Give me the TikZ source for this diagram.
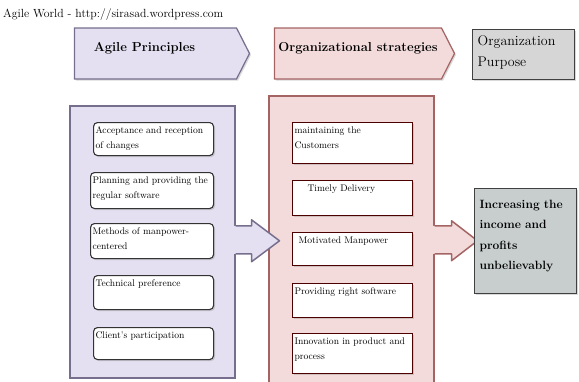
\documentclass[tikz,border=0pt]{standalone}
\usetikzlibrary{shapes.symbols,shadows,calc}
\definecolor{lavfill}{RGB}{228,224,241}
\definecolor{lavline}{RGB}{118,110,140}
\definecolor{pinkfill}{RGB}{243,219,219}
\definecolor{pinkline}{RGB}{165,100,100}
\definecolor{greyfill}{RGB}{214,214,214}
\definecolor{resultfill}{RGB}{200,206,206}
\tikzset{
  every picture/.style={
    x=1pt, y=-1pt
  },
  soft shadow/.style={
    drop shadow={opacity=0.3, shadow xshift=1.5pt, shadow yshift=-1.5pt}
  },
  head/.style={
    signal, signal to=east, signal pointer angle=126,
    line width=1.2pt, minimum height=51pt, inner sep=0pt,
    text height=9pt, text depth=14pt,
    font=\fontsize{13}{15}\selectfont\bfseries, soft shadow
  }
}
\begin{document}
\begin{tikzpicture}[
    panel/.style={draw, line width=1.5pt, minimum width=165pt,
      anchor=north west, inner sep=0pt, soft shadow},
    agile item/.style={draw=black!80, line width=1.1pt, fill=white,
      rounded corners=4pt, anchor=north west, align=left, text width=116pt,
      inner xsep=2pt, inner ysep=3pt, text height=8pt, text depth=#1,
      font=\fontsize{9.6}{15}\selectfont, soft shadow},
    strat item/.style={draw=black!70!red, line width=1.1pt, fill=white,
      anchor=north west, align=left, text width=116pt,
      inner xsep=2pt, inner ysep=3pt, text height=8pt, text depth=#1,
      font=\fontsize{9.6}{15}\selectfont, soft shadow},
    grey box/.style={draw=black!75, line width=1.3pt, anchor=north west,
      align=left, minimum width=102pt, inner xsep=5pt, inner ysep=3pt, soft shadow}
  ]
  \useasboundingbox (0,0) rectangle (579,381);

  \node[anchor=base west, inner sep=0pt, font=\fontsize{11.8}{13}\selectfont] (caption)
    at (3,17) {Agile World - http://sirasad.wordpress.com};

  % headers
  \node[head, fill=lavfill, draw=lavline, minimum width=175pt] (agilehead)
    at (155.5,53.5) {Agile Principles\hspace*{22pt}};
  \node[head, fill=pinkfill, draw=pinkline, minimum width=180pt] (strathead)
    at (358,53.5) {Organizational strategies};
  \node[grey box, fill=greyfill, text width=92pt, text height=13pt, text depth=31pt,
    font=\fontsize{14}{21}\selectfont] (purpose) at (472,29) {Organization\\Purpose};

  % panels
  \node[panel, fill=lavfill, draw=lavline, minimum height=272pt] (agilepanel) at (69,105) {};
  \node[panel, fill=pinkfill, draw=pinkline, minimum height=294pt] (stratpanel) at (268,95) {};

  % agile principles
  \node[agile item=19pt] (a1) at (93,122) {Acceptance and reception\\of changes};
  \node[agile item=22pt, text width=119pt] (a2) at (90,172) {Planning and providing the\\regular software};
  \node[agile item=21pt, text width=119pt] (a3) at (90,223) {Methods of manpower-\\centered};
  \node[agile item=20pt] (a4) at (93,275) {Technical preference};
  \node[agile item=18pt] (a5) at (93,327) {Client's participation};

  % strategies
  \node[strat item=27pt] (s1) at (292,122) {maintaining the\\Customers};
  \node[strat item=21pt] (s2) at (292,180) {\hspace*{13pt}Timely Delivery};
  \node[strat item=19pt] (s3) at (292,232) {\hspace*{4pt}Motivated Manpower};
  \node[strat item=20pt] (s4) at (292,283) {Providing right software};
  \node[strat item=26pt] (s5) at (292,333) {Innovation in product and\\process};

  % big arrows
  \fill[lavfill] ([xshift=-2pt,yshift=16pt]agilepanel.east) -- ++(18,0) -- ++(0,-6)
    -- ++(28,21) -- ++(-28,21) -- ++(0,-8) -- ++(-18,0) -- cycle;
  \draw[lavline, line width=1.5pt, line join=round] ([yshift=16pt]agilepanel.east)
    -- ++(16,0) -- ++(0,-6) -- ++(28,21) -- ++(-28,21) -- ++(0,-8) -- ++(-16,0);
  \fill[pinkfill] ([xshift=-2pt,yshift=17pt]stratpanel.east) -- ++(19,0) -- ++(0,-5)
    -- ++(26,20) -- ++(-26,20) -- ++(0,-7) -- ++(-19,0) -- cycle;
  \draw[pinkline, line width=1.5pt, line join=round] ([yshift=17pt]stratpanel.east)
    -- ++(17,0) -- ++(0,-5) -- ++(26,20) -- ++(-26,20) -- ++(0,-7) -- ++(-17,0);

  \node[grey box, fill=resultfill, text width=92pt, text height=16.5pt, text depth=82.5pt,
    font=\fontsize{12}{20.5}\selectfont\bfseries] (result) at (474,188)
    {Increasing the\\income and\\profits\\unbelievably};
\end{tikzpicture}
\end{document}
